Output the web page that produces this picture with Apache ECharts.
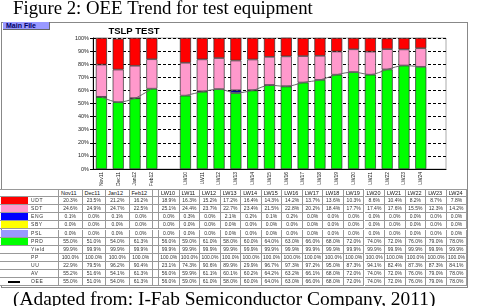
<!DOCTYPE html>
<html>
<head>
<meta charset="utf-8">
<script src="https://cdn.jsdelivr.net/npm/echarts@6.0.0/dist/echarts.min.js"></script>
<style>
body { margin: 0; background: #fff; }
#wrap { position: relative; width: 478px; height: 306px; overflow: hidden; font-family: Arial, 'Liberation Sans', sans-serif; }
#chart { position: absolute; left: 0; top: 0; width: 478px; height: 306px; }
#frame { position: absolute; left: 1px; top: 22px; width: 467px; height: 266px; border: 1px solid #888; box-sizing: border-box; pointer-events: none; }
#btn { position: absolute; left: 3px; top: 22px; width: 47px; height: 8px; background: #9999ff; border-right: 1px solid #666; border-bottom: 1px solid #666; box-sizing: border-box;
       font: bold 7px Arial, sans-serif; color: #000066; line-height: 7px; padding-left: 3px; }
.cell { position: absolute; box-sizing: border-box; border-right: 1px solid #999; border-bottom: 1px solid #999; font-size: 5px; color: #333;
        text-align: center; white-space: nowrap; overflow: hidden; background: #fff; }
</style>
</head>
<body>
<div id="wrap">
  <div id="chart"></div>
  <div id="frame"></div>
  <div id="btn">Main File</div>
  <div id="table"></div>
</div>
<script>
// periods (table columns) - monthly then weekly
const months = ['Nov11', 'Dec11', 'Jan12', 'Feb12'];
const weeks = ['LW10', 'LW11', 'LW12', 'LW13', 'LW14', 'LW15', 'LW16', 'LW17', 'LW18', 'LW19', 'LW20', 'LW21', 'LW22', 'LW23', 'LW24'];

// values in %, same order as months + weeks
const udt = [20.3, 23.5, 21.2, 16.2, 18.9, 16.3, 15.2, 17.2, 16.4, 14.3, 14.2, 13.7, 13.6, 10.3, 8.6, 10.4, 8.2, 8.7, 7.8];
const sdt = [24.6, 24.9, 24.7, 22.5, 25.1, 24.4, 23.7, 22.7, 23.4, 21.5, 22.8, 20.2, 18.4, 17.7, 17.4, 17.6, 15.5, 12.3, 14.2];
const eng = [0.1, 0.0, 0.1, 0.0, 0.0, 0.3, 0.0, 2.1, 0.2, 0.1, 0.2, 0.0, 0.0, 0.0, 0.0, 0.0, 0.0, 0.0, 0.0];
const sby = [0.0, 0.0, 0.0, 0.0, 0.0, 0.0, 0.0, 0.0, 0.0, 0.0, 0.0, 0.0, 0.0, 0.0, 0.0, 0.0, 0.0, 0.0, 0.0];
const psl = [0.0, 0.0, 0.0, 0.0, 0.0, 0.0, 0.0, 0.0, 0.0, 0.0, 0.0, 0.0, 0.0, 0.0, 0.0, 0.0, 0.0, 0.0, 0.0];
const prd = [55.0, 51.0, 54.0, 61.3, 56.0, 59.0, 61.0, 58.0, 60.0, 64.0, 63.0, 66.0, 68.0, 72.0, 74.0, 72.0, 76.0, 79.0, 78.0];
const yieldRate = [99.9, 99.9, 99.9, 99.9, 99.9, 99.9, 99.9, 99.9, 99.9, 99.9, 99.9, 99.9, 99.9, 99.9, 99.9, 99.9, 99.9, 99.9, 99.9];
const pp = [100.0, 100.0, 100.0, 100.0, 100.0, 100.0, 100.0, 100.0, 100.0, 100.0, 100.0, 100.0, 100.0, 100.0, 100.0, 100.0, 100.0, 100.0, 100.0];
const uu = [22.9, 79.5, 96.2, 90.4, 23.1, 74.3, 90.6, 89.9, 29.9, 96.7, 97.3, 97.2, 95.0, 87.3, 94.1, 82.4, 87.3, 87.3, 84.1];
const av = [55.2, 51.6, 54.1, 61.3, 56.0, 59.9, 61.1, 60.1, 60.2, 64.2, 63.2, 66.1, 68.0, 72.0, 74.0, 72.0, 76.0, 79.0, 78.0];
const oee = [55.0, 51.0, 54.0, 61.3, 56.0, 59.0, 61.0, 58.0, 60.0, 64.0, 63.0, 66.0, 68.0, 72.0, 74.0, 72.0, 76.0, 79.0, 78.0];

const yTicks = [0, 10, 20, 30, 40, 50, 60, 70, 80, 90, 100];

const rowNames = ['UDT', 'SDT', 'ENG', 'SBY', 'PSL', 'PRD', 'Yield', 'PP', 'UU', 'AV', 'OEE'];
const rowData = [udt, sdt, eng, sby, psl, prd, yieldRate, pp, uu, av, oee];
const rowColors = ['#ff0000', '#ff99cc', '#0000ff', '#ffff00', '#9999ff', '#00ff00', null, null, null, null, null];

// chart has a blank slot between months and weeks, and one after the last week
const categories = [...months, '', ...weeks, ''];
function toChart(arr) {
    const v = arr.map(x => (x === 0 ? null : x));
    return [...v.slice(0, 4), null, ...v.slice(4), null];
}

const chartDom = document.getElementById('chart');
const myChart = echarts.init(chartDom, null, { renderer: 'canvas' });

function barSeries(name, arr, color) {
    return {
        name: name,
        type: 'bar',
        stack: 'time',
        data: toChart(arr),
        barWidth: '66%',
        itemStyle: { color: color, borderColor: '#333', borderWidth: 0.7 },
        emphasis: { disabled: true }
    };
}

const option = {
    animation: false,
    grid: { left: 93, right: 32, top: 38, bottom: 137, show: true, borderColor: '#aaa', borderWidth: 1 },
    xAxis: {
        type: 'category',
        data: categories,
        axisLine: { lineStyle: { color: '#000', width: 1 } },
        axisTick: { show: false },
        axisLabel: { interval: 0, rotate: 90, fontSize: 5, color: '#222', margin: 3, fontFamily: 'Arial' }
    },
    yAxis: {
        type: 'value',
        min: yTicks[0],
        max: yTicks[yTicks.length - 1],
        interval: 10,
        axisLine: { show: true, lineStyle: { color: '#000', width: 1 } },
        axisTick: { show: true, length: 3, lineStyle: { color: '#000' } },
        axisLabel: { formatter: '{value}%', fontSize: 5.5, color: '#222', margin: 4, fontFamily: 'Arial' },
        splitLine: { lineStyle: { color: '#000', width: 1, type: [3, 2] } }
    },
    graphic: [
        { type: 'text', x: 13, y: 0, style: { text: 'Figure 2: OEE Trend for test equipment', font: '18.8px "Liberation Serif"', fill: '#000', verticalAlign: 'top' } },
        { type: 'text', x: 134, y: 26, style: { text: 'TSLP TEST', font: 'bold 9.5px Arial', fill: '#000', align: 'center', verticalAlign: 'top' } },
        { type: 'text', x: 13, y: 290, style: { text: '(Adapted from: I-Fab Semiconductor Company, 2011)', font: '19.4px "Liberation Serif"', fill: '#000', verticalAlign: 'top' } }
    ],
    series: [
        barSeries('PRD', prd, '#00ff00'),
        barSeries('PSL', psl, '#9999ff'),
        barSeries('SBY', sby, '#ffff00'),
        barSeries('ENG', eng, '#0000aa'),
        barSeries('SDT', sdt, '#ff99cc'),
        barSeries('UDT', udt, '#ff0000'),
        {
            name: 'OEE',
            type: 'line',
            data: toChart(oee),
            smooth: 0.3,
            symbol: 'none',
            connectNulls: false,
            z: 5,
            lineStyle: { color: '#666', width: 1 }
        }
    ]
};
option && myChart.setOption(option);

// data table under the chart
const table = document.getElementById('table');
const periods = [...months, ...weeks];
const colX = [];
months.forEach((m, i) => colX.push([59 + 23.5 * i, 23.5]));
const gapCol = [153, 6];
weeks.forEach((w, i) => colX.push([159 + 20.55 * i, 20.55]));
const tableTop = 189, rowH = 8.1;

function addCell(x, y, w, h, html, extra) {
    const c = document.createElement('div');
    c.className = 'cell';
    c.style.left = x + 'px';
    c.style.top = y + 'px';
    c.style.width = w + 'px';
    c.style.height = h + 'px';
    c.style.lineHeight = (h - 1) + 'px';
    c.innerHTML = html;
    if (extra) Object.assign(c.style, extra);
    table.appendChild(c);
    return c;
}

// header row
addCell(0, tableTop, 59, rowH, '', { borderTop: '1px solid #999', borderRight: '1px solid #999' });
periods.forEach((p, i) => {
    addCell(colX[i][0], tableTop, colX[i][1], rowH, p, { borderTop: '1px solid #999', textAlign: 'left', paddingLeft: '2px', fontSize: '5.5px', color: '#111' });
});
addCell(gapCol[0], tableTop, gapCol[1], rowH, '', { borderTop: '1px solid #999' });

rowNames.forEach((name, r) => {
    const y = tableTop + rowH * (r + 1);
    const sw = addCell(0, y, 59, rowH, '', {});
    const color = rowColors[r];
    const swatch = document.createElement('div');
    swatch.style.position = 'absolute';
    if (color) {
        Object.assign(swatch.style, { left: '1px', top: '0px', width: '27px', height: (rowH - 1) + 'px', background: color });
    } else if (name === 'OEE') {
        Object.assign(swatch.style, { left: '8px', top: Math.round(rowH / 2 - 1) + 'px', width: '12px', height: '1.5px', background: '#000' });
    }
    sw.appendChild(swatch);
    const lbl = document.createElement('div');
    Object.assign(lbl.style, { position: 'absolute', left: '31px', top: '0px', lineHeight: (rowH - 1) + 'px', fontSize: '5px', letterSpacing: '0.6px' });
    lbl.textContent = name;
    sw.appendChild(lbl);
    rowData[r].forEach((v, i) => {
        addCell(colX[i][0], y, colX[i][1], rowH, v.toFixed(1) + '%', {});
    });
    addCell(gapCol[0], y, gapCol[1], rowH, '', {});
});
</script>
</body>
</html>
